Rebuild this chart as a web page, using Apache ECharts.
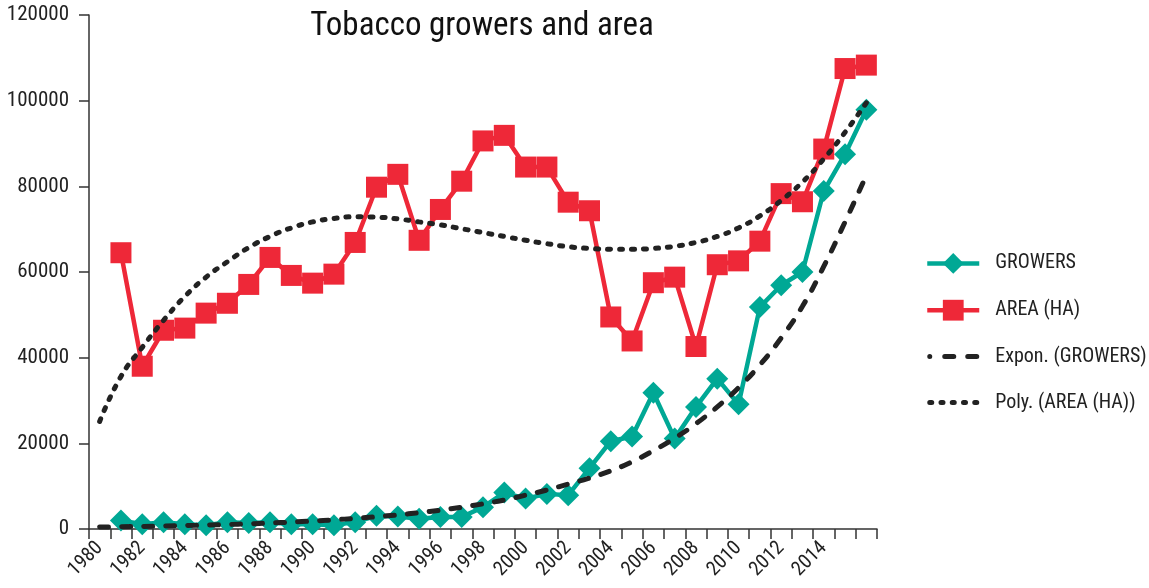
<!DOCTYPE html>
<html>
<head>
<meta charset="utf-8">
<script src="https://cdn.jsdelivr.net/npm/echarts@6/dist/echarts.min.js"></script>
<style>html,body{margin:0;padding:0;background:#fff}#c{width:1149px;height:588px}</style>
</head>
<body>
<div id="c"></div>
<script>
var years = ['1980','1981','1982','1983','1984','1985','1986','1987','1988','1989','1990','1991','1992','1993','1994','1995','1996','1997','1998','1999','2000','2001','2002','2003','2004','2005','2006','2007','2008','2009','2010','2011','2012','2013','2014','2015','2016'];
var growers = [null,2000,1100,1600,1100,900,1600,1400,1600,1100,1100,900,1600,3100,2900,2400,2800,2800,5100,8500,7100,8200,7900,14200,20500,21600,31800,21100,28500,35100,29100,51800,56900,60000,78900,87500,97900];
var area = [null,64500,38000,46400,46900,50400,52700,57100,63400,59200,57400,59500,66900,79800,82800,67400,74600,81200,90600,91900,84500,84500,76300,74300,49500,43900,57500,58800,42600,61700,62600,67200,78300,76400,88700,107500,108300];
var exponGrowers = [450,520,600,690,790,910,1050,1210,1400,1610,1860,2150,2480,2860,3300,3810,4400,5080,5870,6780,7900,9100,10500,11900,13600,15700,18300,21200,24600,28500,33000,38300,44600,52000,61300,71700,82600];
var polyArea = [25100,35600,42400,48700,54300,58800,62400,65700,68300,70300,71700,72500,72900,72800,72400,71700,71000,70100,69200,68300,67400,66600,65900,65500,65300,65300,65500,66000,66900,68300,70300,73100,76700,81000,86400,92600,99500];
var yTicks = {min: 0, max: 120000, interval: 20000};

var FONT = "'Liberation Sans Narrow','Roboto Condensed','DejaVu Sans Condensed',sans-serif";
var TEAL = '#00A895', RED = '#EE2838', DARK = '#222222';

// legend keys for the trend lines (dash pattern drawn as icon shapes)
function capsule(x0, x1, h) {
  var r = h / 2;
  return 'M' + (x0 + r) + ',0 L' + (x1 - r) + ',0 A' + r + ',' + r + ' 0 0,1 ' + (x1 - r) + ',' + h +
         ' L' + (x0 + r) + ',' + h + ' A' + r + ',' + r + ' 0 0,1 ' + (x0 + r) + ',0 Z ';
}
var expIcon = 'path://' + capsule(0, 5, 5) + capsule(15, 29, 5) + capsule(38, 52, 5);
var polyIcon = 'path://' + capsule(0, 7, 5) + capsule(11.25, 18.25, 5) + capsule(22.5, 29.5, 5) + capsule(33.75, 40.75, 5) + capsule(45, 52, 5);

var chart = echarts.init(document.getElementById('c'), null, {renderer: 'canvas'});
chart.setOption({
  animation: false,
  backgroundColor: '#ffffff',
  title: {
    text: 'Tobacco growers and area',
    left: 477, top: 5, textAlign: 'center',
    textStyle: {fontFamily: FONT, fontSize: 33, fontWeight: 'normal', color: '#111'}
  },
  legend: {
    orient: 'vertical', left: 920, top: 248,
    itemWidth: 52, itemHeight: 26, itemGap: 26,
    lineStyle: {width: 4.5},
    textStyle: {fontFamily: FONT, fontSize: 20, color: '#222', padding: [0,0,0,11]},
    data: [
      {name: 'GROWERS'},
      {name: 'AREA (HA)'},
      {name: 'Expon. (GROWERS)', icon: expIcon, itemStyle: {color: DARK}},
      {name: 'Poly. (AREA (HA))', icon: polyIcon, itemStyle: {color: DARK}}
    ]
  },
  grid: {left: 89, right: 272, top: 15, bottom: 59, containLabel: false},
  xAxis: {
    type: 'category', data: years, boundaryGap: true,
    axisLine: {lineStyle: {color: '#333', width: 1.5}},
    axisTick: {show: true, interval: 0, length: 10, lineStyle: {color: '#333', width: 1.5}},
    axisLabel: {
      rotate: 45, margin: 16, fontFamily: FONT, fontSize: 20, color: '#222',
      interval: function (i) { return i % 2 === 0 && i < years.length - 1; }
    },
    splitLine: {show: false}
  },
  yAxis: {
    type: 'value', min: yTicks.min, max: yTicks.max, interval: yTicks.interval,
    axisLine: {show: true, lineStyle: {color: '#333', width: 1.5}},
    axisTick: {show: true, length: 10, lineStyle: {color: '#333', width: 1.5}},
    axisLabel: {margin: 20, fontFamily: FONT, fontSize: 21, color: '#222',
      formatter: function (v) { return String(v); }},
    splitLine: {show: false}
  },
  series: [
    {name: 'GROWERS', type: 'line', data: growers, symbol: 'diamond', symbolSize: [22, 22], showAllSymbol: true,
      lineStyle: {color: TEAL, width: 4.5}, itemStyle: {color: TEAL}, z: 2},
    {name: 'AREA (HA)', type: 'line', data: area, symbol: 'rect', symbolSize: 21, showAllSymbol: true,
      lineStyle: {color: RED, width: 4.5}, itemStyle: {color: RED}, z: 2},
    {name: 'Expon. (GROWERS)', type: 'line', data: exponGrowers, symbol: 'none', smooth: true,
      lineStyle: {color: DARK, width: 5, type: [9, 13], cap: 'round'}, itemStyle: {color: DARK}, z: 3},
    {name: 'Poly. (AREA (HA))', type: 'line', data: polyArea, symbol: 'none', smooth: true,
      lineStyle: {color: DARK, width: 5, type: [3, 9], cap: 'round'}, itemStyle: {color: DARK}, z: 3}
  ]
});
</script>
</body>
</html>
